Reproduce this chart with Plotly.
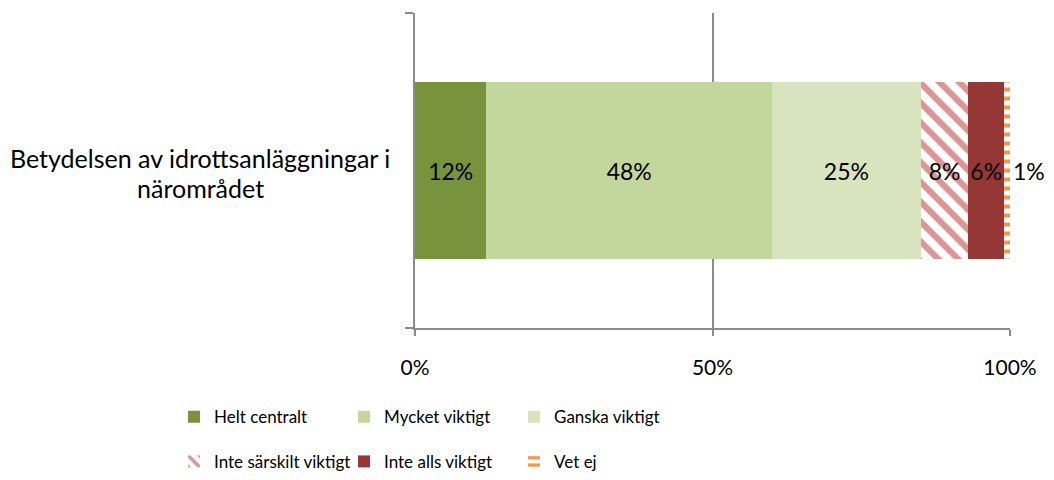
import plotly.graph_objects as go

category = ["Betydelsen av idrottsanläggningar i närområdet"]
series_names = ["Helt centralt", "Mycket viktigt", "Ganska viktigt",
                "Inte särskilt viktigt", "Inte alls viktigt", "Vet ej"]
values = [12, 48, 25, 8, 6, 1]
colors = ["#77933C", "#C3D69B", "#D7E4BD", "#D99694", "#953735", "#F79646"]
tick_vals = [0, 50, 100]
tick_text = ["0%", "50%", "100%"]

FONT = "Lato, 'Open Sans', sans-serif"

fig = go.Figure()
for i, (name, v, c) in enumerate(zip(series_names, values, colors)):
    marker = dict(color=c, line=dict(width=0))
    if name == "Inte särskilt viktigt":
        marker = dict(color="white", line=dict(width=0),
                      pattern=dict(shape="\\", fgcolor=c, bgcolor="white",
                                   size=14, solidity=0.45, fillmode="replace"))
    if name == "Vet ej":
        marker = dict(color="white", line=dict(width=0),
                      pattern=dict(shape="-", fgcolor=c, bgcolor="white",
                                   size=9, solidity=0.45, fillmode="replace"))
    fig.add_trace(go.Bar(
        y=category, x=[v], name=name, orientation="h",
        marker=marker,
        text=[f"{v}%"],
        textposition="outside" if name == "Vet ej" else "inside",
        insidetextanchor="middle",
        textangle=0,
        constraintext="none",
        cliponaxis=False,
        textfont=dict(family=FONT, size=23, color="#000000"),
        legend="legend" if i < 3 else "legend2",
    ))

LEG_X = -0.41 + 3 / 595
fig.update_layout(
    width=1054, height=480,
    margin=dict(l=415, r=44, t=13, b=152, autoexpand=False),
    barmode="stack", bargap=0.44,
    plot_bgcolor="white", paper_bgcolor="white",
    font=dict(family=FONT, size=17, color="#000000"),
    showlegend=True,
    legend=dict(orientation="h", x=LEG_X, y=-0.283, xanchor="left", yanchor="middle",
                entrywidth=125, entrywidthmode="pixels", itemwidth=30,
                font=dict(family=FONT, size=17, color="#000000"),
                traceorder="normal", bgcolor="rgba(0,0,0,0)"),
    legend2=dict(orientation="h", x=LEG_X, y=-0.425, xanchor="left", yanchor="middle",
                 entrywidth=125, entrywidthmode="pixels", itemwidth=30,
                 font=dict(family=FONT, size=17, color="#000000"),
                 traceorder="normal", bgcolor="rgba(0,0,0,0)"),
)

fig.update_xaxes(range=[0, 100], tickvals=tick_vals, ticktext=tick_text,
                 showgrid=True, gridcolor="#8C8C8C", gridwidth=1.5,
                 showline=True, linecolor="#8C8C8C", linewidth=1.5,
                 ticks="outside", ticklen=6, tickcolor="#8C8C8C", tickwidth=1.5,
                 ticklabelstandoff=14, zeroline=False,
                 tickfont=dict(family=FONT, size=21, color="#000000"), fixedrange=True)
fig.update_yaxes(showline=True, linecolor="#8C8C8C", linewidth=1.5,
                 ticks="outside", ticklen=8, tickcolor="#8C8C8C", tickwidth=1.5,
                 tickson="boundaries", showticklabels=False, showgrid=False,
                 fixedrange=True)

label_lines = ["Betydelsen av idrottsanläggningar i", "närområdet"]
for j, line in enumerate(label_lines):
    fig.add_annotation(text=line, xref="paper", yref="y", x=-0.361, y=category[0],
                       xanchor="center", yanchor="middle", showarrow=False,
                       yshift=13 - 30 * j,
                       font=dict(family=FONT, size=25, color="#000000"))

fig.write_html("out.html")
